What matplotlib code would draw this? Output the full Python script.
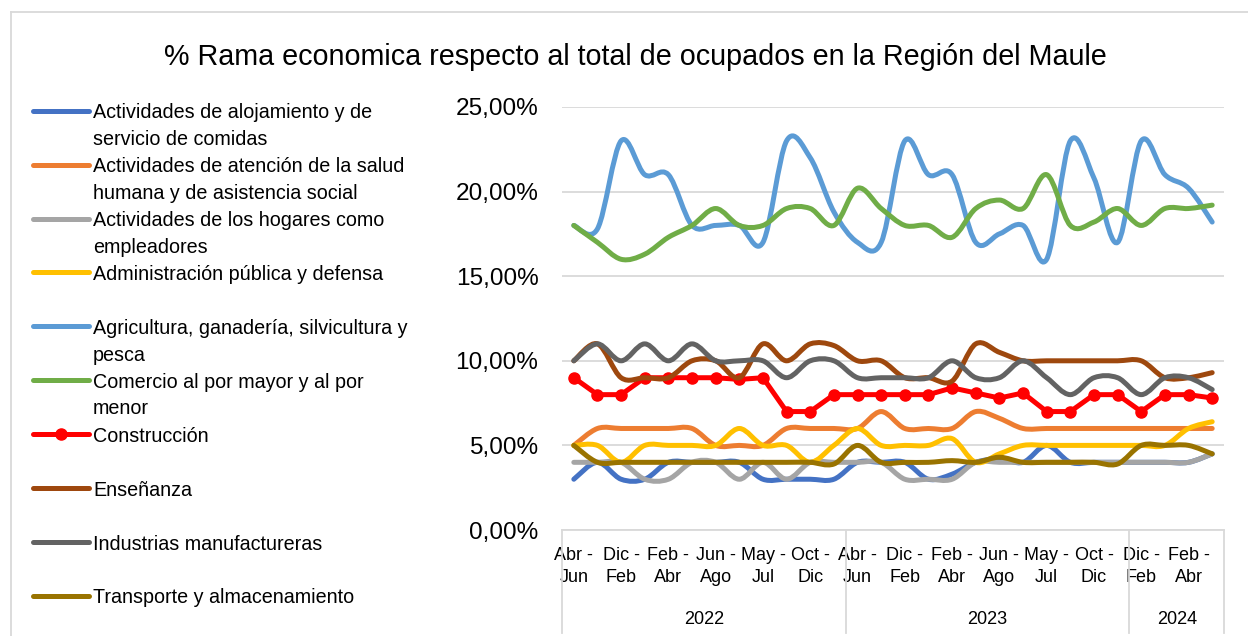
import numpy as np
import matplotlib
matplotlib.use("Agg")
import matplotlib.pyplot as plt
from matplotlib import font_manager
from matplotlib.path import Path
from matplotlib.patches import PathPatch
from matplotlib.lines import Line2D
import matplotlib.transforms as mtransforms

# periods (Excel sorted them alphabetically inside each year)
periodos = ['Abr - Jun', 'Ago - Oct', 'Dic - Feb', 'Ene - Mar', 'Feb - Abr', 'Jul - Sep',
            'Jun - Ago', 'Mar - May', 'May - Jul', 'Nov - Ene', 'Oct - Dic', 'Sep - Nov'] * 2 \
           + ['Dic - Feb', 'Ene - Mar', 'Feb - Abr', 'Mar - May']
anios = ['2022'] * 12 + ['2023'] * 12 + ['2024'] * 4

# % of employed, by branch
alojamiento = [3, 4, 3, 3, 4, 4, 4, 4, 3, 3, 3, 3, 4, 4, 4, 3, 3.3, 4, 4.2, 4, 5, 4, 4, 4, 4, 4, 4, 4.5]
salud = [5, 6, 6, 6, 6, 6, 5, 5, 5, 6, 6, 6, 6, 7, 6, 6, 6, 7, 6.6, 6, 6, 6, 6, 6, 6, 6, 6, 6]
hogares = [4, 4, 4, 3, 3, 4, 4, 3, 4, 3, 4, 4, 4, 4, 3, 3, 3, 4, 4, 4, 4, 4, 4, 4, 4, 4, 4, 4.5]
administracion = [5, 5, 4, 5, 5, 5, 5, 6, 5, 5, 4, 5, 6, 5, 5, 5, 5.4, 4, 4.5, 5, 5, 5, 5, 5, 5, 5, 6, 6.4]
agricultura = [18, 17.8, 23, 21, 21, 18, 18, 18, 17, 23, 22, 18.8, 17, 17,
               23, 21, 21, 17, 17.5, 18, 16, 23, 20.8, 17, 23, 21, 20.2, 18.2]
comercio = [18, 17, 16, 16.3, 17.3, 18, 19, 18, 18, 19, 19, 18, 20.2, 19,
            18, 18, 17.3, 19, 19.5, 19, 21, 18, 18.2, 19, 18, 19, 19, 19.2]
construccion = [9, 8, 8, 9, 9, 9, 9, 8.9, 9, 7, 7, 8, 8, 8, 8, 8, 8.4, 8.1, 7.8, 8.1, 7, 7, 8, 8, 7, 8, 8, 7.8]
ensenanza = [10, 11, 9, 9, 9, 10, 10, 9, 11, 10, 11, 10.9, 10, 10, 9, 9, 8.8, 11, 10.5, 10, 10, 10, 10, 10, 10, 9, 9, 9.3]
industrias = [10, 11, 10, 11, 10, 11, 10, 10, 10, 9, 10, 10, 9, 9, 9, 9, 10, 9, 9, 10, 9, 8, 9, 9, 8, 9, 9, 8.3]
transporte = [5, 4, 4, 4, 4, 4, 4, 4, 4, 4, 4, 3.9, 5, 4, 4, 4, 4.1, 4, 4.3, 4, 4, 4, 4, 3.9, 5, 5, 5, 4.5]

nombres = ['Actividades de alojamiento y de\nservicio de comidas',
           'Actividades de atención de la salud\nhumana y de asistencia social',
           'Actividades de los hogares como\nempleadores',
           'Administración pública y defensa',
           'Agricultura, ganadería, silvicultura y\npesca',
           'Comercio al por mayor y al por\nmenor',
           'Construcción',
           'Enseñanza',
           'Industrias manufactureras',
           'Transporte y almacenamiento']
series = [alojamiento, salud, hogares, administracion, agricultura,
          comercio, construccion, ensenanza, industrias, transporte]
colores = ['#4472C4', '#ED7D31', '#A5A5A5', '#FFC000', '#5B9BD5',
           '#70AD47', '#FF0000', '#9E480E', '#636363', '#997300']

titulo = '% Rama economica respecto al total de ocupados en la Región del Maule'

W, H = 1248, 636
plt.rcParams['font.family'] = ['Liberation Sans', 'DejaVu Sans']
instaladas = {f.name for f in font_manager.fontManager.ttflist}
if 'Liberation Sans Narrow' in instaladas:
    fam_x, size_x = ['Liberation Sans Narrow', 'Liberation Sans'], 15
else:
    fam_x, size_x = ['Liberation Sans', 'DejaVu Sans'], 13

GRIS = '#D9D9D9'


def smooth_path(xs, ys):
    # Excel-like smoothed line: cubic bezier through every point
    pts = np.column_stack([xs, ys]).astype(float)
    n = len(pts)
    verts = [pts[0]]
    codes = [Path.MOVETO]
    for i in range(n - 1):
        p0 = pts[i - 1] if i > 0 else pts[i]
        p1, p2 = pts[i], pts[i + 1]
        p3 = pts[i + 2] if i + 2 < n else pts[i + 1]
        verts += [p1 + (p2 - p0) / 6, p2 - (p3 - p1) / 6, p2]
        codes += [Path.CURVE4] * 3
    return Path(verts, codes)


fig = plt.figure(figsize=(W / 100, H / 100), dpi=100)

# chart border (only left and top are visible in the crop)
fig.add_artist(Line2D([11 / W, 11 / W], [0, 1 - 12 / H], color=GRIS, lw=1.3, transform=fig.transFigure))
fig.add_artist(Line2D([11 / W, 1], [1 - 12 / H, 1 - 12 / H], color=GRIS, lw=1.3, transform=fig.transFigure))

fig.text(635.5 / W, 1 - 65 / H, titulo, ha='center', va='baseline', fontsize=20.7)

ax = fig.add_axes([562 / W, 1 - 530 / H, (1224 - 562) / W, (530 - 107) / H])
x = np.arange(len(periodos))

for i, (vals, col) in enumerate(zip(series, colores)):
    if nombres[i] == 'Construcción':
        ax.plot(x, vals, color=col, lw=3.6, marker='o', ms=8, zorder=3 + i,
                solid_joinstyle='round')
    else:
        ax.add_patch(PathPatch(smooth_path(x, vals), fill=False, edgecolor=col, lw=3.6,
                               capstyle='round', joinstyle='round', zorder=3 + i))

ax.set_xlim(-0.5, len(periodos) - 0.5)
ax.set_ylim(0, 25)
yt = [0, 5, 10, 15, 20, 25]
ax.set_yticks(yt)
ax.set_yticklabels([f'{v:.2f}%'.replace('.', ',') for v in yt])
ax.tick_params(axis='y', length=0, pad=17, labelsize=17.6)
ax.yaxis.grid(True, color=GRIS, lw=1.3)
ax.set_axisbelow(True)
for s in ['left', 'right', 'top']:
    ax.spines[s].set_visible(False)
ax.spines['bottom'].set_color(GRIS)
ax.spines['bottom'].set_linewidth(1.3)

pos = list(range(0, len(periodos), 2))
ax.set_xticks(pos)
ax.set_xticklabels([periodos[p].replace(' - ', ' -\n') for p in pos],
                   fontsize=size_x, family=fam_x, linespacing=1.4)
ax.tick_params(axis='x', length=0, pad=12)

# year level of the axis
trans = mtransforms.blended_transform_factory(ax.transData, ax.transAxes)
bajo = -(633 - 530) / (530 - 107)
bordes = [-0.5]
for anio in dict.fromkeys(anios):
    idx = [k for k, a in enumerate(anios) if a == anio]
    ax.text((idx[0] + idx[-1]) / 2, -(620 - 530) / (530 - 107), anio, transform=trans,
            ha='center', va='center', fontsize=size_x, family=fam_x)
    bordes.append(idx[-1] + 0.5)
for b in bordes:
    ax.add_line(Line2D([b, b], [0, bajo], transform=trans, color=GRIS, lw=1.3, clip_on=False))

# legend on the left
for k, (nom, col) in enumerate(zip(nombres, colores)):
    yc = 110.7 + k * 53.9
    fy = 1 - yc / H
    fig.add_artist(Line2D([33 / W, 89 / W], [fy, fy], color=col, lw=3.6,
                          solid_capstyle='round', transform=fig.transFigure))
    if nom == 'Construcción':
        fig.add_artist(Line2D([61 / W], [fy], color=col, marker='o', ms=8, transform=fig.transFigure))
    for j, linea in enumerate(nom.split('\n')):
        fig.text(93 / W, 1 - (yc + 7.6 + j * 26.7) / H, linea, ha='left', va='baseline', fontsize=14.2)

fig.savefig('out.png', dpi=100)
